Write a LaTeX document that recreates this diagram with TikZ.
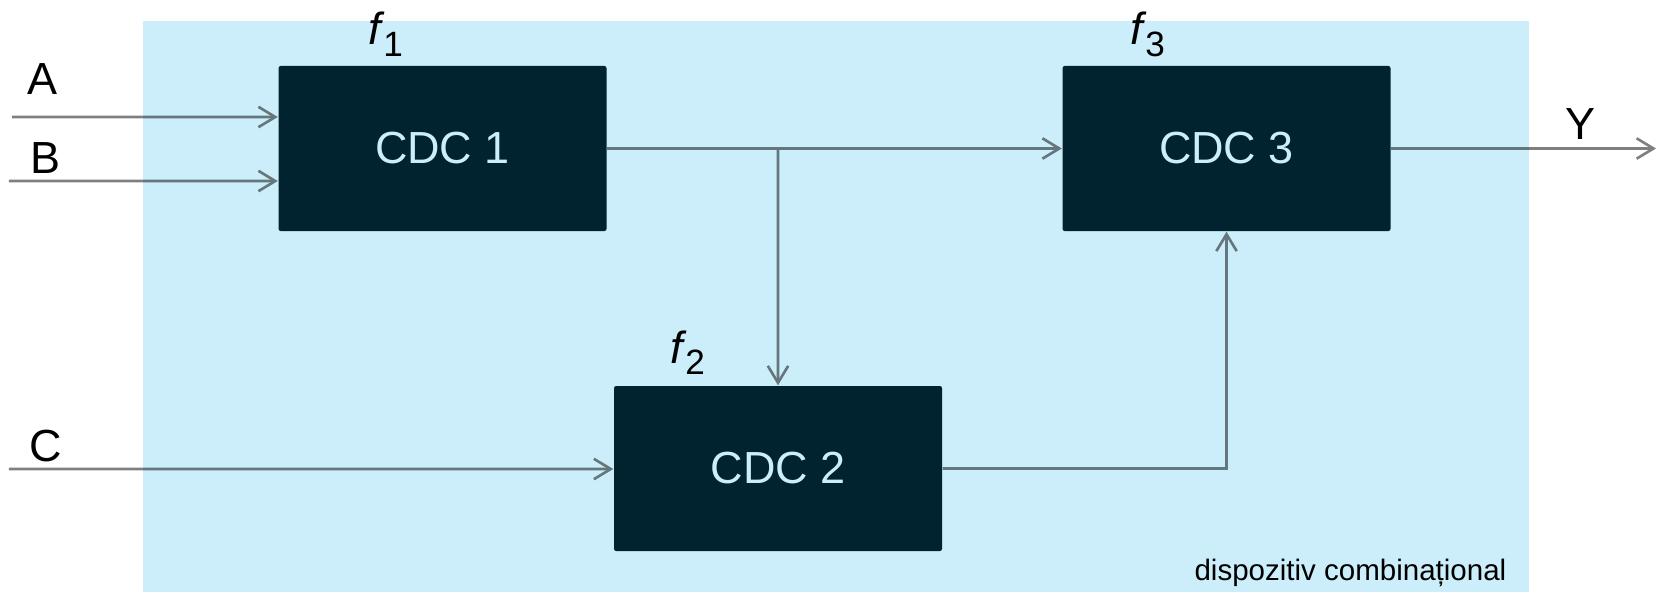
\documentclass[tikz,border=0pt]{standalone}
\usepackage{fontspec}
\setmainfont{Liberation Sans}
\usepackage{tikz}
\usetikzlibrary{positioning, arrows.meta}

\definecolor{bgblue}{HTML}{CBEEFA}
\definecolor{boxdark}{HTML}{012330}
\definecolor{boxtext}{HTML}{CBEEFA}

\newcommand{\fsub}[1]{\textit{f}\kern-0.5pt\raisebox{-3.4pt}{\fontsize{10}{12}\selectfont #1}}

\begin{document}
\begin{tikzpicture}[node distance=2cm, on grid,
    block/.style={rectangle, rounded corners=0.6pt, fill=boxdark, text=boxtext,
        minimum width=3.28cm, minimum height=1.65cm, inner sep=0pt,
        font=\fontsize{12.8}{15}\selectfont},
    lbl/.style={inner sep=0pt, font=\fontsize{12.8}{15}\selectfont},
    wire/.style={line width=0.75pt, -{Straight Barb[length=4.8pt, width=5.8pt]}}]
    \useasboundingbox (0,0) rectangle (16.61,-5.92);
    % Background of the device
    \fill[bgblue] (1.43,-0.21) rectangle (15.29,-5.92);
    \node[inner sep=0pt, anchor=base east, font=\fontsize{8.4}{10}\selectfont] (dev)
        at (15.07,-5.80) {dispozitiv combinațional};

    % Define blocks
    \node[block] (cdc1) at (4.425,-1.485) {CDC 1};
    \node[block] (cdc3) [right=7.84cm of cdc1] {CDC 3};
    \node[block] (cdc2) [below right=3.2cm and 3.355cm of cdc1] {CDC 2};

    % Function names
    \node[lbl, anchor=base west] (f1) at (3.68,-0.45) {\fsub{1}};
    \node[lbl, anchor=base west] (f3) at (11.30,-0.45) {\fsub{3}};
    \node[lbl, anchor=base west] (f2) at (6.70,-3.63) {\fsub{2}};

    % Inputs and output
    \coordinate (inA) at (0.12,-1.17);
    \coordinate (inB) at (0.09,-1.81);
    \coordinate (inC) at (0.09,-4.69);
    \coordinate (outY) at (16.56,-1.485);
    \node[lbl, anchor=base west] (A) at (0.27,-0.95) {A};
    \node[lbl, anchor=base west] (B) at (0.30,-1.73) {B};
    \node[lbl, anchor=base west] (C) at (0.29,-4.61) {C};
    \node[lbl, anchor=base west] (Y) at (15.65,-1.40) {Y};

    % Define connections
    \begin{scope}[transparency group, opacity=0.5]
    \draw[wire] (inA) -- (inA -| cdc1.west);
    \draw[wire] (inB) -- (inB -| cdc1.west);
    \draw[wire] (inC) -- (inC -| cdc2.west);
    \draw[wire] (cdc1.east) -- (cdc3.west);
    \draw[wire] (cdc2.north |- cdc1.east) -- (cdc2.north);
    \draw[wire] (cdc2.east) -| (cdc3.south);
    \draw[wire] (cdc3.east) -- (outY);
    \end{scope}
\end{tikzpicture}
\end{document}
